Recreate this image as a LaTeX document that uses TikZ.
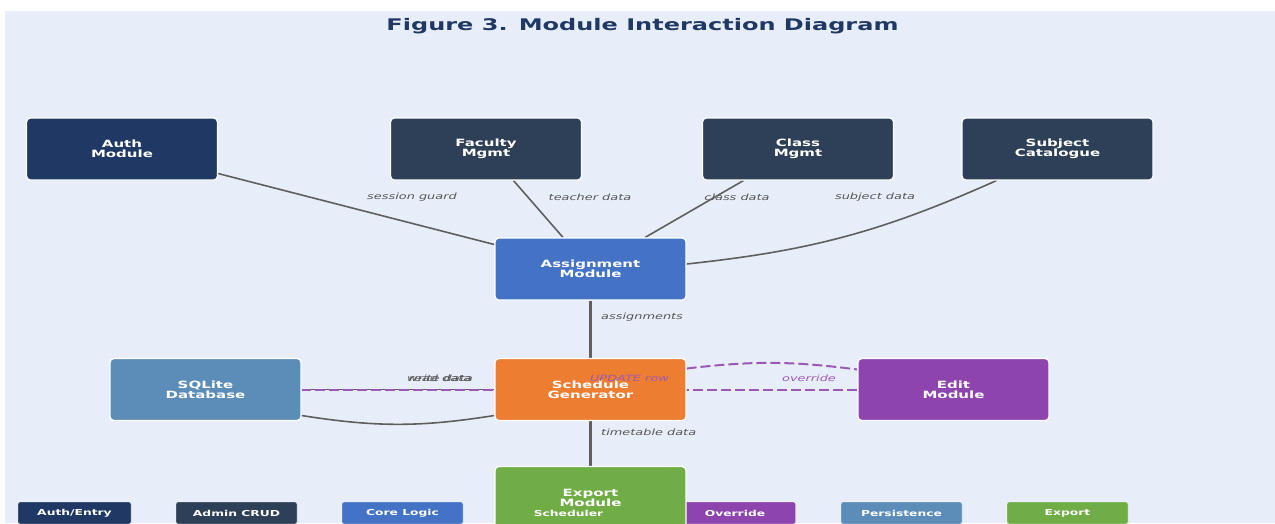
\documentclass[tikz,border=0pt]{standalone}
\usepackage{fontspec}
\newfontfamily\dvs{DejaVu Sans}[FakeStretch=1.5]

\pgfdeclarelayer{panel}
\pgfdeclarelayer{links}
\pgfsetlayers{panel,links,main}

\definecolor{bgpanel}{HTML}{E8EEF9}
\definecolor{authc}{HTML}{1F3864}
\definecolor{adminc}{HTML}{2E4057}
\definecolor{corec}{HTML}{4472C4}
\definecolor{schedc}{HTML}{ED7D31}
\definecolor{editc}{HTML}{8E44AD}
\definecolor{dbc}{HTML}{5B8DB8}
\definecolor{expc}{HTML}{70AD47}
\definecolor{linkc}{HTML}{5F5F5F}
\definecolor{labelc}{HTML}{555555}
\definecolor{ovc}{HTML}{9B59B6}

\begin{document}
\begin{tikzpicture}[x=1pt,y=-1pt,
  module/.style={draw=white, line width=1.2pt, rounded corners=4pt,
    minimum width=191pt, minimum height=62pt, inner sep=0pt,
    text=white, align=center, font=\dvs\bfseries\fontsize{10}{10}\selectfont},
  legendbox/.style={draw=white, line width=0.3pt, rounded corners=2pt,
    minimum width=121pt, minimum height=22pt, inner sep=0pt,
    text=white, font=\dvs\bfseries\fontsize{8.2}{8.2}\selectfont},
  legendtext/.style={inner sep=0pt, text=white,
    font=\dvs\bfseries\fontsize{8.2}{8.2}\selectfont},
  link/.style={draw=linkc, line width=1.6pt},
  trunk/.style={draw=linkc, line width=2.2pt},
  overlink/.style={draw=ovc, line width=2pt, dash pattern=on 10pt off 4pt},
  linklabel/.style={inner sep=0pt, text=labelc,
    font=\dvs\itshape\fontsize{8.6}{8.6}\selectfont},
  overlabel/.style={linklabel, text=ovc}
]
\useasboundingbox (0,0) rectangle (1275,523);
\clip (0,0) rectangle (1275,523);

\begin{pgfonlayer}{panel}
  \fill[white] (0,0) rectangle (1275,523);
  \fill[bgpanel] (5,11) rectangle (1275,523);
\end{pgfonlayer}

% title
\node[anchor=base, inner sep=0pt, text=authc,
      font=\dvs\bfseries\fontsize{16}{16}\selectfont] (title) at (642.5,30.5)
  {Figure 3. Module Interaction Diagram};

% modules
\node[module, fill=authc]  (auth)    at (122,149)    {Auth\\Module};
\node[module, fill=adminc] (faculty) at (486,149)    {Faculty\\Mgmt};
\node[module, fill=adminc] (class)   at (798,149)    {Class\\Mgmt};
\node[module, fill=adminc] (subject) at (1057.5,149) {Subject\\Catalogue};
\node[module, fill=corec]  (assign)  at (590.5,269)  {Assignment\\Module};
\node[module, fill=dbc]    (db)      at (205.5,389.5) {SQLite\\Database};
\node[module, fill=schedc] (sched)   at (590.5,389.5) {Schedule\\Generator};
\node[module, fill=editc]  (edit)    at (953.5,389.5) {Edit\\Module};

% legend
\node[legendbox, fill=authc, minimum width=113pt] (lgauth) at (74.5,513) {Auth/Entry};
\node[legendbox, fill=adminc] (lgadmin) at (236.5,513)  {Admin CRUD};
\node[legendbox, fill=corec]  (lgcore)  at (402.5,513)  {Core Logic};
\node[legendbox, fill=schedc] (lgsched) at (568.5,513)  {};
\node[legendbox, fill=editc]  (lgedit)  at (735,513)    {Override};
\node[legendbox, fill=dbc]    (lgdb)    at (901.5,513)  {Persistence};
\node[legendbox, fill=expc]   (lgexp)   at (1067.5,513) {Export};

\node[module, fill=expc] (export) at (590.5,497.5) {Export\\Module};
\node[legendtext] (lgschedtext) at (lgsched.center) {Scheduler};

% connectors
\begin{pgfonlayer}{links}
  \draw[link] (auth) -- (assign);
  \draw[link] (faculty) -- (assign);
  \draw[link] (class) -- (assign);
  \draw[link] ([xshift=35pt]subject.south west) to[bend left=9] ([yshift=5pt]assign.east);
  \draw[trunk] (assign) -- (sched);
  \draw[link, line width=1.2pt] (sched.west) -- (db.east);
  \draw[overlink] (edit.west) -- (db.east);
  \draw[link] ([yshift=-26pt]db.east) to[bend right=9] ([yshift=-26pt]sched.west);
  \draw[overlink] ([yshift=21pt]sched.east) to[bend left=7] ([yshift=20pt]edit.west);
  \draw[trunk] (sched) -- (export);
\end{pgfonlayer}

% connector labels
\node[linklabel] (lsession) at (412,197) {session guard};
\node[linklabel] (lteacher) at (590,197) {teacher data};
\node[linklabel] (lclass)   at (737,197) {class data};
\node[linklabel] (lsubject) at (875,197) {subject data};
\node[linklabel, anchor=west] (lassign) at (601,317) {assignments};
\node[linklabel] (lwrite) at (440,378) {write data};
\node[linklabel] (lread)  at (440,378) {read data};
\node[overlabel] (lupdate) at (629.5,378) {UPDATE row};
\node[overlabel] (lover)   at (809,378)   {override};
\node[linklabel, anchor=west] (ltime) at (601,432) {timetable data};
\end{tikzpicture}
\end{document}
